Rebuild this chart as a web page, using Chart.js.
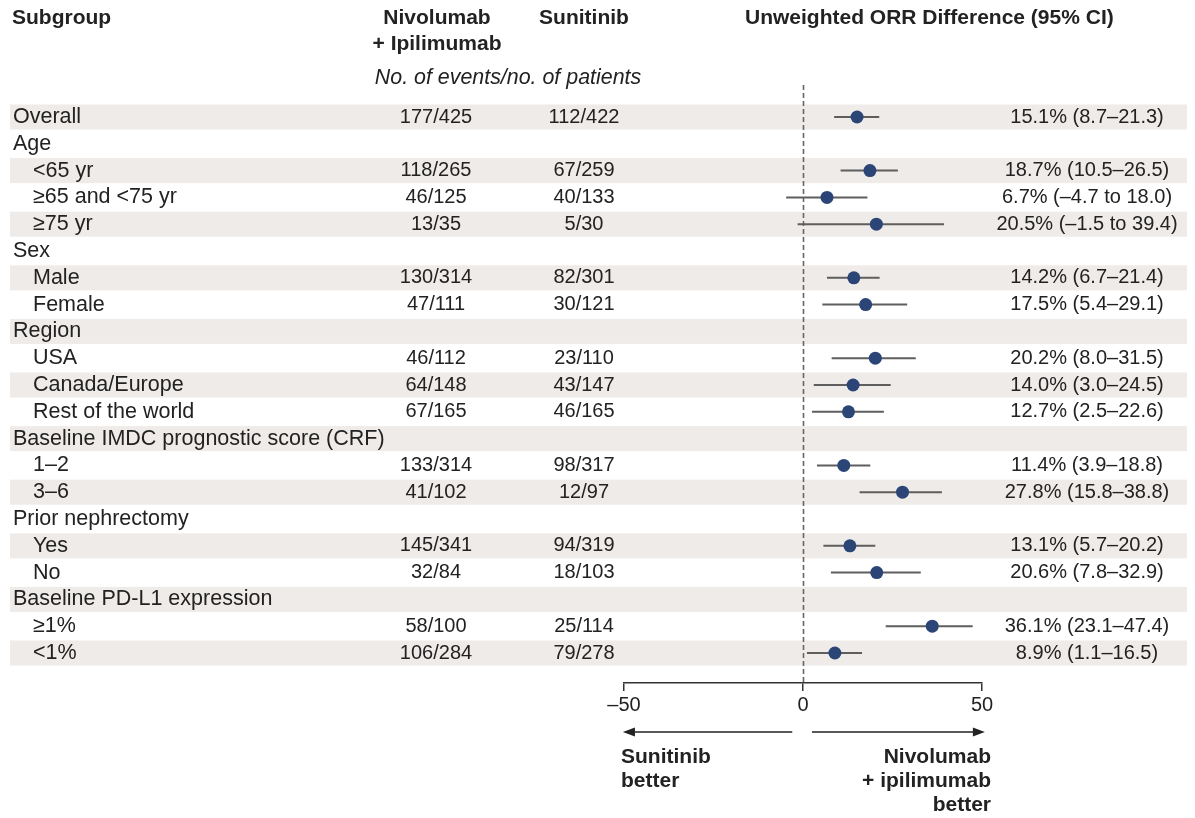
<!DOCTYPE html>
<html>
<head>
<meta charset="utf-8">
<script src="https://cdn.jsdelivr.net/npm/chart.js@4.4.1/dist/chart.umd.min.js"></script>
<style>
  body { margin: 0; background: #fff; }
  #forest { display: block; }
</style>
</head>
<body>
<canvas id="forest" width="1195" height="818"></canvas>
<script>
// Subgroup rows (top to bottom)
const subgroups = ['Overall', 'Age', '<65 yr', '≥65 and <75 yr', '≥75 yr', 'Sex', 'Male', 'Female',
  'Region', 'USA', 'Canada/Europe', 'Rest of the world', 'Baseline IMDC prognostic score (CRF)',
  '1–2', '3–6', 'Prior nephrectomy', 'Yes', 'No', 'Baseline PD-L1 expression', '≥1%', '<1%'];
const indented = [0, 0, 1, 1, 1, 0, 1, 1, 0, 1, 1, 1, 0, 1, 1, 0, 1, 1, 0, 1, 1];

// No. of events / no. of patients
const nivoIpi = ['177/425', '', '118/265', '46/125', '13/35', '', '130/314', '47/111', '', '46/112', '64/148',
  '67/165', '', '133/314', '41/102', '', '145/341', '32/84', '', '58/100', '106/284'];
const sunitinib = ['112/422', '', '67/259', '40/133', '5/30', '', '82/301', '30/121', '', '23/110', '43/147',
  '46/165', '', '98/317', '12/97', '', '94/319', '18/103', '', '25/114', '79/278'];

// Unweighted ORR difference with 95% CI
const orrDiff = [15.1, null, 18.7, 6.7, 20.5, null, 14.2, 17.5, null, 20.2, 14.0, 12.7, null, 11.4, 27.8,
  null, 13.1, 20.6, null, 36.1, 8.9];
const ciLow = [8.7, null, 10.5, -4.7, -1.5, null, 6.7, 5.4, null, 8.0, 3.0, 2.5, null, 3.9, 15.8,
  null, 5.7, 7.8, null, 23.1, 1.1];
const ciHigh = [21.3, null, 26.5, 18.0, 39.4, null, 21.4, 29.1, null, 31.5, 24.5, 22.6, null, 18.8, 38.8,
  null, 20.2, 32.9, null, 47.4, 16.5];

const xTicks = [-50, 0, 50];

const FONT = '"Liberation Sans", Arial, Helvetica, sans-serif';
const TEXT = '#222';
const DOT = '#2c4577';
const CI = '#5e5e5e';

const fmt = v => (v < 0 ? '–' : '') + Math.abs(v).toFixed(1);
const ciText = i => {
  if (orrDiff[i] === null) return '';
  const sep = ciLow[i] < 0 ? ' to ' : '–';
  return fmt(orrDiff[i]) + '% (' + fmt(ciLow[i]) + sep + fmt(ciHigh[i]) + ')';
};

// one short line per CI
const ciSets = [];
orrDiff.forEach((v, i) => {
  if (v === null) return;
  ciSets.push({
    type: 'line',
    data: [{ x: ciLow[i], y: i }, { x: ciHigh[i], y: i }],
    borderColor: CI,
    borderWidth: 2,
    pointRadius: 0,
    order: 2
  });
});

const points = [];
orrDiff.forEach((v, i) => { if (v !== null) points.push({ x: v, y: i }); });

const forestTable = {
  id: 'forestTable',
  beforeDatasetsDraw(chart) {
    const ctx = chart.ctx;
    const y = chart.scales.y, x = chart.scales.x;
    ctx.save();
    // row shading
    ctx.fillStyle = '#efebe8';
    subgroups.forEach((s, i) => {
      if (i % 2 === 0) ctx.fillRect(10, y.getPixelForValue(i) - 12.5, 1177, 25);
    });
    // dashed zero line
    const x0 = Math.round(x.getPixelForValue(0)) + 0.5;
    ctx.strokeStyle = '#666';
    ctx.lineWidth = 1.6;
    ctx.setLineDash([5, 3]);
    ctx.beginPath();
    ctx.moveTo(x0, chart.chartArea.top);
    ctx.lineTo(x0, chart.chartArea.bottom);
    ctx.stroke();
    ctx.restore();
  },
  afterDraw(chart) {
    const ctx = chart.ctx;
    const y = chart.scales.y, x = chart.scales.x;
    ctx.save();
    ctx.fillStyle = TEXT;
    ctx.textBaseline = 'middle';

    // headers
    ctx.font = 'bold 21px ' + FONT;
    ctx.textAlign = 'left';
    ctx.fillText('Subgroup', 12, 18);
    ctx.fillText('Unweighted ORR Difference (95% CI)', 745, 18);
    ctx.textAlign = 'center';
    ctx.fillText('Nivolumab', 437, 18);
    ctx.fillText('+ Ipilimumab', 437, 44);
    ctx.fillText('Sunitinib', 584, 18);
    ctx.font = 'italic 21.4px ' + FONT;
    ctx.fillText('No. of events/no. of patients', 508, 78);

    // rows
    subgroups.forEach((s, i) => {
      const py = y.getPixelForValue(i);
      ctx.font = '21.5px ' + FONT;
      ctx.textAlign = 'left';
      ctx.fillText(s, indented[i] ? 33 : 13, py);
      ctx.font = '20px ' + FONT;
      ctx.textAlign = 'center';
      ctx.fillText(nivoIpi[i], 436, py);
      ctx.fillText(sunitinib[i], 584, py);
      ctx.fillText(ciText(i), 1087, py);
    });

    // direction arrows
    const ay = 732;
    const arrow = (from, to) => {
      const x1 = x.getPixelForValue(from), x2 = x.getPixelForValue(to);
      const d = Math.sign(x2 - x1);
      ctx.strokeStyle = '#222';
      ctx.lineWidth = 1.5;
      ctx.beginPath();
      ctx.moveTo(x1, ay);
      ctx.lineTo(x2 - d * 8, ay);
      ctx.stroke();
      ctx.fillStyle = '#222';
      ctx.beginPath();
      ctx.moveTo(x2, ay);
      ctx.lineTo(x2 - d * 12, ay - 4.5);
      ctx.lineTo(x2 - d * 12, ay + 4.5);
      ctx.closePath();
      ctx.fill();
    };
    arrow(-3, -50.3);
    arrow(2.5, 50.8);

    ctx.fillStyle = TEXT;
    ctx.font = 'bold 21px ' + FONT;
    ctx.textAlign = 'left';
    ctx.fillText('Sunitinib', 621, 757);
    ctx.fillText('better', 621, 781);
    ctx.textAlign = 'right';
    ctx.fillText('Nivolumab', 991, 757);
    ctx.fillText('+ ipilimumab', 991, 781);
    ctx.fillText('better', 991, 805);
    ctx.restore();
  }
};

const ctx = document.getElementById('forest').getContext('2d');
const forestChart = new Chart(ctx, {
  type: 'scatter',
  data: {
    datasets: [
      ...ciSets,
      {
        type: 'scatter',
        data: points,
        pointRadius: 6.5,
        pointBackgroundColor: DOT,
        pointBorderColor: DOT,
        pointBorderWidth: 0,
        order: 1
      }
    ]
  },
  options: {
    responsive: false,
    animation: false,
    events: [],
    layout: { padding: { left: 624, right: 213, top: 85, bottom: 95 } },
    plugins: { legend: { display: false }, tooltip: { enabled: false } },
    scales: {
      x: {
        type: 'linear',
        min: -50,
        max: 50,
        afterBuildTicks: s => { s.ticks = xTicks.map(v => ({ value: v })); },
        afterFit: s => { s.height = 40; },
        border: { display: true, color: '#333', width: 1.5 },
        grid: { drawOnChartArea: false, drawTicks: true, tickLength: 8, color: '#333', lineWidth: 1.5 },
        ticks: {
          padding: 2,
          color: '#222',
          font: { family: FONT, size: 20 },
          maxRotation: 0,
          callback: v => (v < 0 ? '–' + Math.abs(v) : String(v))
        }
      },
      y: {
        type: 'linear',
        display: false,
        reverse: true,
        min: -1.194,
        max: 21.119
      }
    }
  },
  plugins: [forestTable]
});
</script>
</body>
</html>
